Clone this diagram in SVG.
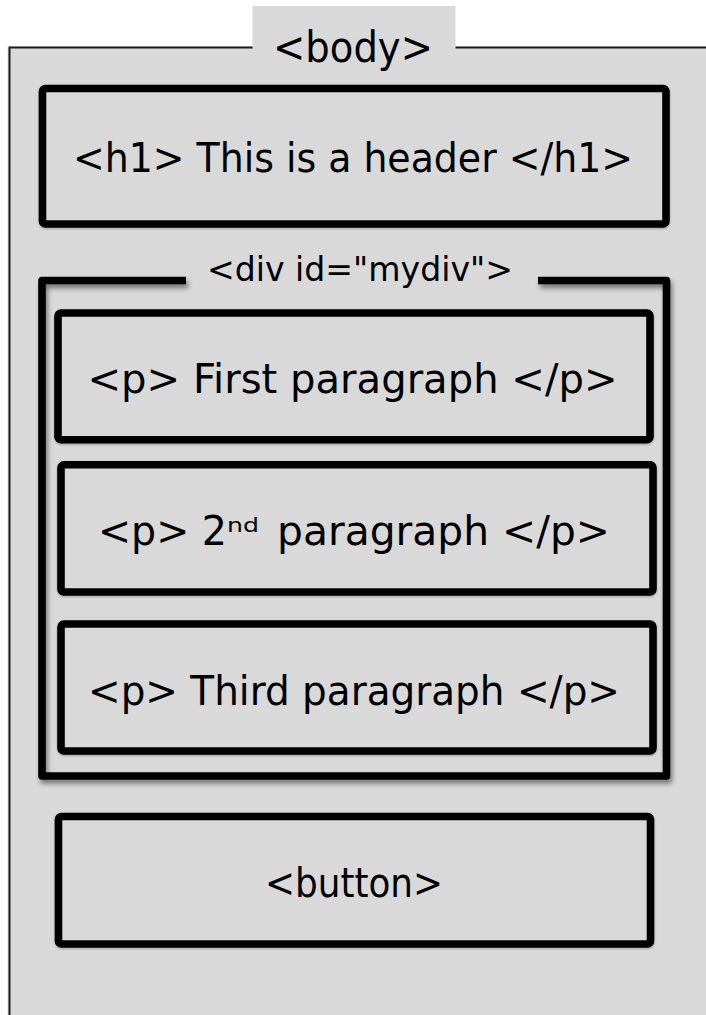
<svg xmlns="http://www.w3.org/2000/svg" width="706" height="1015" viewBox="0 0 706 1015">
  <defs>
    <filter id="shadow" x="-10%" y="-10%" width="120%" height="120%">
      <feDropShadow dx="2" dy="4" stdDeviation="2.5" flood-color="#000" flood-opacity="0.45"/>
    </filter>
    <filter id="soft" x="-10%" y="-10%" width="120%" height="120%">
      <feDropShadow dx="0" dy="1" stdDeviation="1" flood-color="#000" flood-opacity="0.3"/>
    </filter>
  </defs>
  <style>
    .box { fill: #d9d9d9; stroke: #000; stroke-width: 7.6; stroke-linejoin: round; }
    .lbl { font-family: "DejaVu Sans", "Liberation Sans", sans-serif; fill: #000; }
    .main { font-size: 40px; }
  </style>
  <rect width="706" height="1015" fill="#ffffff"/>
  <g id="body">
    <rect x="9.5" y="47.5" width="720" height="1000" fill="#d9d9d9" stroke="#1a1a1a" stroke-width="2" filter="url(#soft)"/>
    <rect x="252.5" y="6" width="203" height="43" fill="#d9d9d9"/>
    <text class="lbl" x="353" y="62" font-size="42" text-anchor="middle" textLength="160" lengthAdjust="spacingAndGlyphs">&lt;body&gt;</text>
  </g>
  <g id="h1">
    <rect class="box" x="42.5" y="88.5" width="623.5" height="135.5" rx="3" filter="url(#soft)"/>
    <text class="lbl main" x="353" y="172" text-anchor="middle" textLength="560" lengthAdjust="spacingAndGlyphs">&lt;h1&gt; This is a header &lt;/h1&gt;</text>
  </g>
  <g id="div">
    <path d="M186 280.5 H42 V776 H666.5 V280.5 H538" fill="none" stroke="#000" stroke-width="7.6" stroke-linejoin="round" filter="url(#shadow)"/>
    <text class="lbl" x="360" y="281" font-size="33" text-anchor="middle" textLength="306" lengthAdjust="spacingAndGlyphs">&lt;div id="mydiv"&gt;</text>
  </g>
  <g id="p1">
    <rect class="box" x="58" y="313" width="592" height="126.7" rx="3" filter="url(#soft)"/>
    <text class="lbl main" x="352.5" y="393" text-anchor="middle" textLength="530" lengthAdjust="spacingAndGlyphs">&lt;p&gt; First paragraph &lt;/p&gt;</text>
  </g>
  <g id="p2">
    <rect class="box" x="61" y="464.7" width="592" height="127.3" rx="3" filter="url(#soft)"/>
    <text class="lbl main"><tspan x="98" y="545" textLength="129" lengthAdjust="spacingAndGlyphs">&lt;p&gt; 2</tspan><tspan x="227" y="532" font-size="20" textLength="32" lengthAdjust="spacingAndGlyphs">nd</tspan><tspan x="277" y="545" textLength="333" lengthAdjust="spacingAndGlyphs">paragraph &lt;/p&gt;</tspan></text>
  </g>
  <g id="p3">
    <rect class="box" x="61" y="624" width="592" height="127" rx="3" filter="url(#soft)"/>
    <text class="lbl main" x="354" y="705" text-anchor="middle" textLength="532" lengthAdjust="spacingAndGlyphs">&lt;p&gt; Third paragraph &lt;/p&gt;</text>
  </g>
  <g id="button">
    <rect class="box" x="58.5" y="816.5" width="592" height="127.5" rx="3" filter="url(#soft)"/>
    <text class="lbl main" x="354" y="897" text-anchor="middle" textLength="178" lengthAdjust="spacingAndGlyphs">&lt;button&gt;</text>
  </g>
  <g id="connectors"/>
</svg>
